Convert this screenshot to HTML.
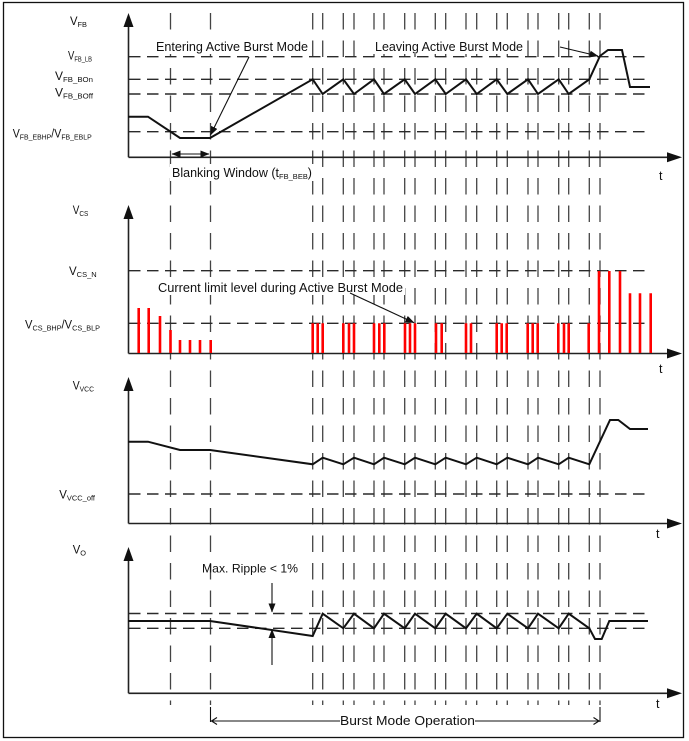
<!DOCTYPE html>
<html>
<head>
<meta charset="utf-8">
<style>
html,body{margin:0;padding:0;background:#fff;}
svg{display:block;}
text{font-family:"Liberation Sans",sans-serif;fill:#111;}
</style>
</head>
<body>
<svg width="689" height="741" viewBox="0 0 689 741" xmlns="http://www.w3.org/2000/svg">
<defs>
<marker id="ah" markerWidth="9" markerHeight="7" refX="8.5" refY="3.5" orient="auto" markerUnits="userSpaceOnUse">
<path d="M0,0 L9,3.5 L0,7 z" fill="#111"/>
</marker>
</defs>
<rect x="0" y="0" width="689" height="741" fill="#fff"/>
<rect x="3.5" y="2.5" width="680" height="735" fill="none" stroke="#111" stroke-width="1.3"/>

<!-- vertical dashed lines -->
<path d="M170.5,13V705 M210.5,13V705 M312.7,13V705 M322.7,13V705 M343.3,13V705 M354,13V705 M374,13V705 M384,13V705 M404.7,13V705 M415,13V705 M435.3,13V705 M445.7,13V705 M466,13V705 M476.7,13V705 M496.7,13V705 M507.3,13V705 M528,13V705 M538,13V705 M558.7,13V705 M568.7,13V705 M589.3,13V705 M600,13V705" stroke="#444" stroke-width="1.3" stroke-dasharray="16.5 11" fill="none"/>

<!-- horizontal dashed lines -->
<g stroke="#2a2a2a" stroke-width="1.4" stroke-dasharray="11.5 6.5" fill="none">
<path d="M129,56.7H650"/>
<path d="M129,79.3H650"/>
<path d="M129,94H650"/>
<path d="M129,131.7H650"/>
<path d="M129,270.7H650"/>
<path d="M129,323.3H650"/>
<path d="M129,494H648"/>
<path d="M129,613.5H648"/>
<path d="M129,628.3H648"/>
</g>

<!-- text backgrounds -->
<g fill="#fff">
<rect x="154" y="39" width="156" height="15"/>
<rect x="373" y="39" width="152" height="15"/>
<rect x="156" y="280" width="249" height="15"/>
<rect x="170" y="164" width="145" height="17"/>
</g>

<!-- axes -->
<g stroke="#222" stroke-width="1.6" fill="none">
<path d="M128.5,157.3V20 M128.5,157.3H670"/>
<path d="M128.5,353.5V212 M128.5,353.5H670"/>
<path d="M128.5,523.5V384 M128.5,523.5H670"/>
<path d="M128.5,693.3V554 M128.5,693.3H670"/>
</g>
<g fill="#111">
<polygon points="128.5,13 123.5,27 133.5,27"/>
<polygon points="682,157.3 667,152.3 667,162.3"/>
<polygon points="128.5,205 123.5,219 133.5,219"/>
<polygon points="682,353.5 667,348.5 667,358.5"/>
<polygon points="128.5,377 123.5,391 133.5,391"/>
<polygon points="682,523.5 667,518.5 667,528.5"/>
<polygon points="128.5,547 123.5,561 133.5,561"/>
<polygon points="682,693.3 667,688.3 667,698.3"/>
</g>

<!-- waveforms -->
<g stroke="#111" stroke-width="2" fill="none" stroke-linejoin="miter">
<polyline points="128,116.7 148,116.7 180,138 210,138 312.7,79.3 322.7,94 343.3,79.3 354,94 374,79.3 384,94 404.7,79.3 415,94 435.3,79.3 445.7,94 466,79.3 476.7,94 496.7,79.3 507.3,94 528,79.3 538,94 558.7,79.3 568.7,94 589.3,79.3 600,56 608,50 622,50 630,87 650,87"/>
<polyline points="128,441.7 148,441.7 180,450 210,450 312.7,464.3 322.7,457.7 343.3,464.3 354,457.7 374,464.3 384,457.7 404.7,464.3 415,457.7 435.3,464.3 445.7,457.7 466,464.3 476.7,457.7 496.7,464.3 507.3,457.7 528,464.3 538,457.7 558.7,464.3 568.7,457.7 589.3,464.3 610,420 618.3,420 630,429 648,429"/>
<polyline points="128,621 210,621 312.7,636 322.7,613.7 343.3,628.3 354,613.7 374,628.3 384,613.7 404.7,628.3 415,613.7 435.3,628.3 445.7,613.7 466,628.3 476.7,613.7 496.7,628.3 507.3,613.7 528,628.3 538,613.7 558.7,628.3 568.7,613.7 589.3,628.3 595,639 601.7,639 609.3,621 648,621"/>
</g>

<!-- red current bars -->
<g stroke="#ff0000" stroke-width="2.6" fill="none">
<path d="M138.7,353V308 M148.7,353V308 M160,353V316 M170.5,353V330 M180,353V340 M190,353V340 M200,353V340 M210.7,353V340"/>
<path d="M312.7,353V323.3 M317.7,353V323.3 M322.7,353V323.3 M343.3,353V323.3 M349,353V323.3 M354,353V323.3 M374,353V323.3 M379.3,353V323.3 M384.3,353V323.3 M405,353V323.3 M410,353V323.3 M415,353V323.3 M436,353V323.3 M441.7,353V323.3 M466,353V323.3 M471,353V323.3 M496.7,353V323.3 M501.7,353V323.3 M506.7,353V323.3 M527.7,353V323.3 M532.7,353V323.3 M537.7,353V323.3 M558.3,353V323.3 M564,353V323.3 M568.7,353V323.3 M588.7,353V323.3"/>
<path d="M599,353V271 M609.3,353V271 M620,353V271 M630,353V293.3 M640,353V293.3 M650.7,353V293.3"/>
</g>

<!-- annotation arrows -->
<g stroke="#111" stroke-width="1.1" fill="none">
<line x1="249" y1="57" x2="210.5" y2="135" marker-end="url(#ah)"/>
<line x1="560" y1="47" x2="598" y2="56" marker-end="url(#ah)"/>
<line x1="350" y1="293" x2="414" y2="322.7" marker-end="url(#ah)"/>
<line x1="180" y1="154" x2="172" y2="154" marker-end="url(#ah)"/>
<line x1="200" y1="154" x2="209" y2="154" marker-end="url(#ah)"/>
<line x1="180" y1="154" x2="200" y2="154"/>
<line x1="272" y1="583" x2="272" y2="612" marker-end="url(#ah)"/>
<line x1="272" y1="665" x2="272" y2="629.5" marker-end="url(#ah)"/>
<path d="M210.5,707V722 M600,707V722"/>
<path d="M211,721H340 M475,721H599"/>
<path d="M217,717.5L211.5,721L217,724.5 M593.5,717.5L599,721L593.5,724.5"/>
</g>

<!-- annotation texts -->
<text x="156" y="51" font-size="12.5" textLength="152" lengthAdjust="spacingAndGlyphs">Entering Active Burst Mode</text>
<text x="375" y="51" font-size="12.5" textLength="148" lengthAdjust="spacingAndGlyphs">Leaving Active Burst Mode</text>
<text x="172" y="177" font-size="12.5" textLength="140" lengthAdjust="spacingAndGlyphs">Blanking Window (t<tspan font-size="7.5" dy="2">FB_BEB</tspan><tspan dy="-2">)</tspan></text>
<text x="158" y="292" font-size="12.5" textLength="245" lengthAdjust="spacingAndGlyphs">Current limit level during Active Burst Mode</text>
<text x="202" y="572.5" font-size="12" textLength="96" lengthAdjust="spacingAndGlyphs">Max. Ripple &lt; 1%</text>
<text x="340" y="725" font-size="12.5" textLength="135" lengthAdjust="spacingAndGlyphs">Burst Mode Operation</text>

<!-- t labels -->
<text x="659" y="180" font-size="12.5">t</text>
<text x="659" y="373" font-size="12.5">t</text>
<text x="656" y="538" font-size="12.5">t</text>
<text x="656" y="708" font-size="12.5">t</text>

<!-- left labels -->
<g font-size="11.5">
<text x="70" y="25" textLength="17" lengthAdjust="spacingAndGlyphs">V<tspan font-size="7.5" dy="2">FB</tspan></text>
<text x="68" y="59.5" textLength="24" lengthAdjust="spacingAndGlyphs">V<tspan font-size="7" dy="2">FB_LB</tspan></text>
<text x="55" y="80" textLength="38" lengthAdjust="spacingAndGlyphs">V<tspan font-size="7.5" dy="2">FB_BOn</tspan></text>
<text x="55" y="96.5" textLength="38" lengthAdjust="spacingAndGlyphs">V<tspan font-size="7.5" dy="2">FB_BOff</tspan></text>
<text x="12.7" y="137.3" textLength="79" lengthAdjust="spacingAndGlyphs">V<tspan font-size="7.5" dy="2">FB_EBHP</tspan><tspan dy="-2">/V</tspan><tspan font-size="7.5" dy="2">FB_EBLP</tspan></text>
<text x="72.7" y="214" textLength="15.6" lengthAdjust="spacingAndGlyphs">V<tspan font-size="7.5" dy="2">CS</tspan></text>
<text x="69" y="275" textLength="27.7" lengthAdjust="spacingAndGlyphs">V<tspan font-size="7.5" dy="2">CS_N</tspan></text>
<text x="25" y="328.3" textLength="75" lengthAdjust="spacingAndGlyphs">V<tspan font-size="7.5" dy="2">CS_BHP</tspan><tspan dy="-2">/V</tspan><tspan font-size="7.5" dy="2">CS_BLP</tspan></text>
<text x="72.7" y="389.3" textLength="21.3" lengthAdjust="spacingAndGlyphs">V<tspan font-size="7.5" dy="2">VCC</tspan></text>
<text x="59.3" y="498.3" textLength="35.7" lengthAdjust="spacingAndGlyphs">V<tspan font-size="7.5" dy="2">VCC_off</tspan></text>
<text x="72.7" y="553.3" textLength="13.3" lengthAdjust="spacingAndGlyphs">V<tspan font-size="7.5" dy="2">O</tspan></text>
</g>
</svg>
</body>
</html>
